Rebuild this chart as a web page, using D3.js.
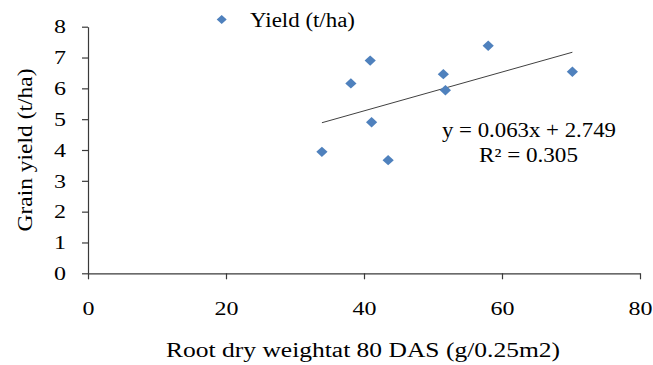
<!DOCTYPE html>
<html>
<head>
<meta charset="utf-8">
<script src="https://cdn.jsdelivr.net/npm/d3@7"></script>
<style>
  html, body { margin: 0; padding: 0; background: #fff; }
  svg { display: block; font-family: "Liberation Serif", "Times New Roman", serif; }
</style>
</head>
<body>
<svg id="chart" width="653" height="365"></svg>
<script>
// Root dry weight at 80 DAS (g/0.25m2) vs grain yield (t/ha)
const rootWeight = [33.9, 38.1, 40.9, 41.1, 43.5, 51.5, 51.8, 58.0, 70.2];
const grainYield = [3.94, 6.16, 6.90, 4.90, 3.67, 6.46, 5.94, 7.38, 6.54];

// Linear trendline as reported on the chart
const slope = 0.063;
const intercept = 2.749;
const rSquared = 0.305;

const xTicks = [0, 20, 40, 60, 80];
const yTicks = [0, 1, 2, 3, 4, 5, 6, 7, 8];

const seriesName = "Yield (t/ha)";
const xTitle = "Root dry weightat 80 DAS (g/0.25m2)";
const yTitle = "Grain yield (t/ha)";

const svg = d3.select("#chart");
const margin = { left: 88, right: 13, top: 26.7, bottom: 91.7 };
const W = 653, H = 365;

const x = d3.scaleLinear().domain([0, 80]).range([margin.left, W - margin.right]);
const y = d3.scaleLinear().domain([0, 8]).range([H - margin.bottom, margin.top]);

const axisColor = "#3a3a3a";
const markColor = "#4F81BD";

// Y axis
const gy = svg.append("g")
  .attr("transform", `translate(${x(0)},0)`)
  .call(d3.axisLeft(y).tickValues(yTicks).tickSize(6).tickSizeOuter(0).tickPadding(16).tickFormat(d3.format("d")));

// X axis
const gx = svg.append("g")
  .attr("transform", `translate(0,${y(0)})`)
  .call(d3.axisBottom(x).tickValues(xTicks).tickSize(6).tickSizeOuter(0).tickPadding(22).tickFormat(d3.format("d")));

[gx, gy].forEach(g => {
  g.selectAll("path.domain").attr("stroke", axisColor).attr("stroke-width", 1.2);
  g.selectAll(".tick line").attr("stroke", axisColor).attr("stroke-width", 1.2);
  g.selectAll(".tick text")
    .attr("fill", "#000")
    .style("font-family", "'Liberation Serif', serif")
    .style("font-size", "19.5px")
    .attr("textLength", d => String(d).length * 12)
    .attr("lengthAdjust", "spacingAndGlyphs");
});

// Trendline across the observed range
const xExt = d3.extent(rootWeight);
svg.append("line")
  .attr("x1", x(xExt[0])).attr("y1", y(slope * xExt[0] + intercept))
  .attr("x2", x(xExt[1])).attr("y2", y(slope * xExt[1] + intercept))
  .attr("stroke", "#404040").attr("stroke-width", 1);

// Diamond markers
const diamond = (cx, cy, hw, hh) => `M${cx},${cy - hh}L${cx + hw},${cy}L${cx},${cy + hh}L${cx - hw},${cy}Z`;
svg.append("g").selectAll("path")
  .data(rootWeight.map((v, i) => [v, grainYield[i]]))
  .join("path")
  .attr("d", d => diamond(x(d[0]), y(d[1]), 5.6, 5.2))
  .attr("fill", markColor);

// Legend
svg.append("path").attr("d", diamond(221.7, 19.5, 5, 4.6)).attr("fill", markColor);
svg.append("text")
  .attr("x", 250).attr("y", 26.5)
  .attr("font-size", 20)
  .attr("textLength", 105).attr("lengthAdjust", "spacingAndGlyphs")
  .text(seriesName);

// Regression equation
svg.append("text")
  .attr("x", 529).attr("y", 137).attr("text-anchor", "middle")
  .attr("font-size", 20)
  .attr("textLength", 174).attr("lengthAdjust", "spacingAndGlyphs")
  .text(`y = ${slope.toFixed(3)}x + ${intercept.toFixed(3)}`);
svg.append("text")
  .attr("x", 528.5).attr("y", 162).attr("text-anchor", "middle")
  .attr("font-size", 20)
  .attr("textLength", 99).attr("lengthAdjust", "spacingAndGlyphs")
  .text(`R² = ${rSquared.toFixed(3)}`);

// Axis titles
svg.append("text")
  .attr("x", (x(0) + x(80)) / 2 - 1).attr("y", 357).attr("text-anchor", "middle")
  .attr("font-size", 20.5)
  .attr("textLength", 394).attr("lengthAdjust", "spacingAndGlyphs")
  .text(xTitle);

svg.append("text")
  .attr("transform", `translate(32,${(y(0) + y(8)) / 2}) rotate(-90)`)
  .attr("text-anchor", "middle")
  .attr("font-size", 22)
  .attr("textLength", 163).attr("lengthAdjust", "spacingAndGlyphs")
  .text(yTitle);
</script>
</body>
</html>
